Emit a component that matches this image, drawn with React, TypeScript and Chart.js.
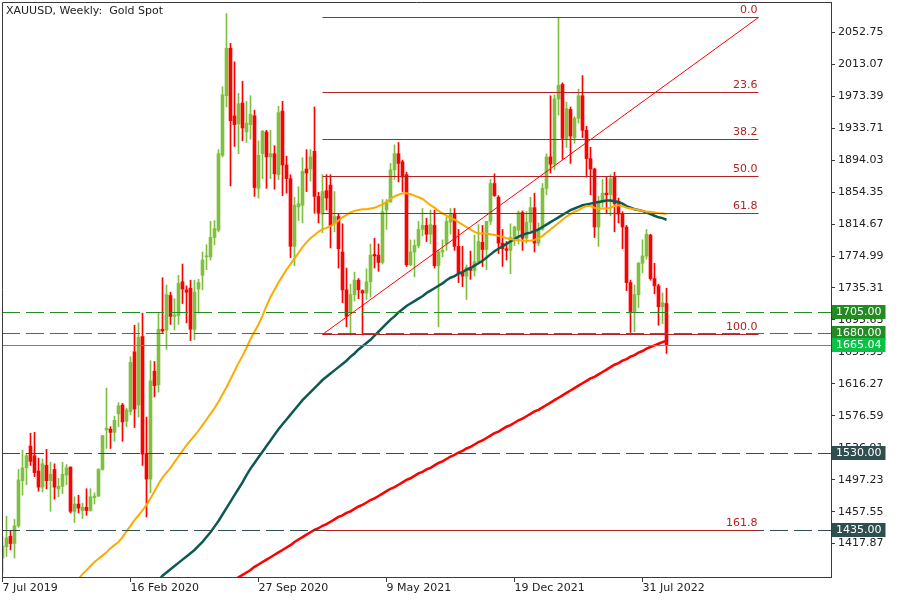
import { useEffect, useRef } from "react";
import { Chart, registerables } from "chart.js";

Chart.register(...registerables);

// ---------- data ----------
const title = "XAUUSD, Weekly:  Gold Spot";
const tickBars = [0, 32, 64, 96, 128, 160];
const tickLabels = ["7 Jul 2019", "16 Feb 2020", "27 Sep 2020", "9 May 2021", "19 Dec 2021", "31 Jul 2022"];
const priceTicks = [2052.75, 2013.07, 1973.39, 1933.71, 1894.03, 1854.35, 1814.67, 1774.99, 1735.31, 1695.63, 1655.95, 1616.27, 1576.59, 1536.91, 1497.23, 1457.55, 1417.87];

const opens = [
  1400, 1414, 1427, 1418, 1440, 1496, 1512, 1539, 1527, 1508, 1488, 1515, 1496, 1510, 1486, 1489, 1503, 1513, 1458, 1467,
  1459, 1463, 1459, 1475, 1477, 1510, 1559, 1560, 1556, 1579, 1590, 1570, 1582, 1656, 1590, 1675, 1530, 1498, 1632, 1615,
  1684, 1683, 1726, 1700, 1701, 1743, 1733, 1735, 1684, 1734, 1751, 1774, 1774, 1798, 1807, 1900, 1974, 2033, 1949, 1939,
  1965, 1929, 1938, 1949, 1859, 1902, 1929, 1898, 1902, 1876, 1955, 1888, 1871, 1787, 1836, 1838, 1883, 1883, 1905, 1849,
  1827, 1856, 1863, 1815, 1824, 1780, 1733, 1706, 1727, 1745, 1732, 1729, 1743, 1777, 1776, 1767, 1832, 1842, 1882, 1902,
  1892, 1876, 1764, 1780, 1788, 1808, 1813, 1802, 1813, 1763, 1780, 1790, 1817, 1827, 1787, 1754, 1750, 1761, 1757, 1768,
  1792, 1783, 1818, 1865, 1848, 1791, 1784, 1782, 1798, 1807, 1829, 1797, 1817, 1835, 1791, 1808, 1859, 1898, 1889, 1970,
  1988, 1921, 1957, 1922, 1946, 1974, 1931, 1896, 1883, 1811, 1842, 1853, 1851, 1873, 1840, 1827, 1811, 1742, 1706, 1727,
  1766, 1775, 1801, 1747, 1738, 1712, 1716
];
const highs = [
  1427, 1452, 1434, 1448, 1510, 1534, 1530, 1555, 1556, 1524, 1523, 1535, 1519, 1517, 1499, 1519, 1516, 1513, 1476, 1478,
  1468, 1486, 1486, 1481, 1511, 1552, 1611, 1563, 1576, 1593, 1592, 1586, 1650, 1689, 1692, 1704, 1575, 1645, 1644, 1704,
  1748, 1739, 1730, 1722, 1751, 1765, 1738, 1745, 1745, 1746, 1780, 1789, 1818, 1819, 1907, 1985, 2076, 2039, 2016, 1977,
  1992, 1967, 1974, 1956, 1918, 1931, 1931, 1931, 1912, 1961, 1967, 1899, 1876, 1848, 1861, 1897, 1907, 1907, 1960, 1854,
  1876, 1876, 1876, 1855, 1827, 1815, 1760, 1740, 1755, 1747, 1733, 1759, 1790, 1797, 1790, 1845, 1845, 1890, 1913, 1916,
  1894, 1879, 1795, 1795, 1818, 1834, 1822, 1832, 1832, 1782, 1795, 1823, 1834, 1834, 1808, 1787, 1764, 1781, 1801, 1814,
  1813, 1818, 1870, 1877, 1850, 1808, 1793, 1815, 1812, 1831, 1831, 1830, 1848, 1853, 1816, 1865, 1902, 1974, 1975, 2071,
  1990, 1966, 1960, 1948, 1982, 1999, 1936, 1910, 1884, 1849, 1870, 1874, 1876, 1879, 1847, 1830, 1813, 1745, 1739, 1767,
  1795, 1808, 1802, 1766, 1740, 1729, 1735
];
const lows = [
  1381, 1402, 1410, 1400, 1438, 1478, 1491, 1515, 1501, 1483, 1482, 1486, 1458, 1473, 1476, 1480, 1491, 1456, 1444, 1456,
  1449, 1453, 1458, 1467, 1476, 1509, 1536, 1536, 1545, 1563, 1545, 1563, 1578, 1562, 1575, 1515, 1451, 1481, 1600, 1606,
  1680, 1659, 1690, 1683, 1690, 1716, 1692, 1670, 1671, 1704, 1733, 1758, 1770, 1789, 1805, 1898, 1960, 1862, 1911, 1902,
  1918, 1916, 1920, 1849, 1847, 1871, 1859, 1871, 1858, 1870, 1850, 1853, 1773, 1763, 1819, 1816, 1855, 1868, 1828, 1816,
  1804, 1832, 1785, 1805, 1760, 1717, 1687, 1677, 1719, 1722, 1677, 1721, 1724, 1760, 1756, 1765, 1808, 1842, 1870, 1867,
  1855, 1762, 1763, 1749, 1785, 1800, 1793, 1790, 1760, 1687, 1774, 1782, 1802, 1782, 1742, 1737, 1721, 1746, 1750, 1765,
  1762, 1758, 1814, 1849, 1778, 1762, 1770, 1753, 1788, 1790, 1782, 1791, 1806, 1780, 1788, 1807, 1851, 1878, 1882, 1950,
  1895, 1910, 1890, 1915, 1940, 1922, 1873, 1851, 1798, 1787, 1836, 1828, 1825, 1805, 1816, 1784, 1732, 1680, 1681, 1711,
  1754, 1771, 1745, 1728, 1689, 1691, 1654
];
const closes = [
  1415, 1425, 1418, 1440, 1497, 1512, 1527, 1520, 1506, 1488, 1517, 1496, 1504, 1488, 1489, 1504, 1512, 1458, 1467, 1462,
  1463, 1459, 1476, 1477, 1510, 1552, 1561, 1556, 1571, 1589, 1569, 1584, 1643, 1585, 1674, 1529, 1498, 1620, 1614, 1684,
  1682, 1727, 1700, 1702, 1741, 1734, 1730, 1684, 1730, 1742, 1770, 1775, 1798, 1809, 1902, 1975, 2033, 1943, 1938, 1964,
  1934, 1940, 1951, 1860, 1900, 1930, 1898, 1902, 1877, 1953, 1888, 1871, 1787, 1838, 1840, 1880, 1878, 1898, 1849, 1828,
  1855, 1847, 1813, 1824, 1784, 1733, 1700, 1727, 1745, 1733, 1729, 1743, 1776, 1775, 1767, 1830, 1842, 1882, 1902, 1890,
  1873, 1764, 1780, 1788, 1808, 1813, 1802, 1814, 1763, 1780, 1782, 1818, 1827, 1787, 1754, 1750, 1761, 1757, 1768, 1793,
  1783, 1818, 1865, 1850, 1791, 1784, 1782, 1798, 1811, 1829, 1797, 1817, 1835, 1791, 1808, 1859, 1898, 1889, 1970, 1987,
  1921, 1958, 1924, 1946, 1974, 1931, 1896, 1883, 1811, 1842, 1853, 1851, 1871, 1840, 1827, 1811, 1742, 1706, 1727, 1766,
  1775, 1802, 1747, 1738, 1712, 1717, 1665
];

// moving averages (first bar index + values)
const ma50Start = 18;
const ma50 = [
  1368, 1374, 1380, 1385, 1390, 1395, 1399, 1403, 1407, 1412, 1416, 1420, 1426, 1433, 1440, 1447, 1453, 1459, 1466, 1474,
  1483, 1492, 1500, 1506, 1512, 1519, 1526, 1533, 1540, 1546, 1552, 1558, 1565, 1572, 1579, 1586, 1594, 1603, 1612, 1622,
  1632, 1642, 1651, 1661, 1672, 1681, 1690, 1701, 1713, 1724, 1733, 1742, 1750, 1758, 1765, 1772, 1779, 1786, 1792, 1797,
  1801, 1805, 1808, 1810, 1812, 1815, 1819, 1823, 1826, 1829, 1831, 1832, 1833, 1833, 1834, 1835, 1837, 1839, 1842, 1846,
  1849, 1851, 1853, 1853, 1852, 1850, 1848, 1846, 1842, 1838, 1835, 1831, 1828, 1825, 1822, 1820, 1817, 1814, 1811, 1808,
  1805, 1803, 1803, 1803, 1802, 1801, 1800, 1799, 1797, 1796, 1795, 1795, 1794, 1794, 1794, 1795, 1797, 1800, 1804, 1808,
  1812, 1816, 1820, 1824, 1827, 1830, 1832, 1835, 1837, 1837, 1835, 1834, 1834, 1834, 1835, 1837, 1838, 1837, 1835, 1834,
  1833, 1832, 1831, 1830, 1830, 1829, 1828, 1828, 1827
];
const ma100Start = 39;
const ma100 = [
  1372, 1378, 1382, 1386, 1390, 1394, 1398, 1402, 1406, 1410, 1415, 1420, 1426, 1432, 1439, 1446, 1454, 1462, 1470, 1478,
  1486, 1494, 1503, 1511, 1518, 1525, 1532, 1539, 1546, 1553, 1560, 1566, 1572, 1578, 1584, 1590, 1596, 1601, 1606, 1611,
  1616, 1621, 1625, 1629, 1633, 1637, 1641, 1645, 1650, 1654, 1659, 1663, 1667, 1671, 1676, 1681, 1686, 1691, 1696, 1700,
  1705, 1709, 1713, 1716, 1719, 1722, 1725, 1729, 1732, 1735, 1738, 1741, 1745, 1748, 1750, 1753, 1755, 1758, 1760, 1763,
  1766, 1769, 1773, 1777, 1781, 1784, 1787, 1790, 1793, 1796, 1799, 1801, 1803, 1804, 1806, 1808, 1811, 1814, 1817, 1820,
  1823, 1826, 1829, 1832, 1834, 1836, 1838, 1839, 1840, 1841, 1842, 1843, 1844, 1844, 1843, 1842, 1840, 1837, 1835, 1833,
  1832, 1831, 1829, 1827, 1825, 1823, 1822, 1820
];
const ma200Start = 58;
const ma200 = [
  1373, 1376, 1379, 1382, 1385, 1389, 1392, 1395, 1398, 1401, 1404, 1407, 1410, 1413, 1416, 1420, 1423, 1426, 1429, 1432,
  1435, 1437, 1440, 1442, 1445, 1448, 1451, 1453, 1456, 1458, 1461, 1464, 1466, 1469, 1472, 1474, 1477, 1480, 1483, 1486,
  1488, 1491, 1494, 1497, 1499, 1502, 1505, 1507, 1510, 1512, 1515, 1518, 1520, 1523, 1526, 1528, 1531, 1533, 1536, 1538,
  1541, 1544, 1546, 1549, 1552, 1555, 1557, 1560, 1563, 1565, 1568, 1571, 1573, 1576, 1579, 1582, 1584, 1587, 1590, 1593,
  1596, 1599, 1602, 1605, 1608, 1611, 1614, 1617, 1620, 1623, 1625, 1628, 1631, 1634, 1637, 1640, 1642, 1645, 1647, 1650,
  1652, 1655, 1657, 1660, 1662, 1664, 1666, 1668, 1670
];

const greenLevels = [1705, 1680];
const slateLevels = [1530, 1435];
const currentPrice = 1665.04;
const fibLevels = [0, 23.6, 38.2, 50, 61.8, 100, 161.8];
const fibHigh = 2071.2;
const fibLow = 1677.6;
const fibStartBar = 80;
const fibEndBar = 189;

// ---------- colours ----------
const BULL = "#80C040";
const BEAR = "#FF0000";
const TEXT = "#222222";
const FRAME = "#3a3a3a";
const FONT = "DejaVu Sans";

export default function App() {
  const ref = useRef<HTMLCanvasElement | null>(null);

  useEffect(() => {
    const canvas = ref.current;
    if (!canvas) return;
    const colors = closes.map((c, i) => (c >= opens[i] ? BULL : BEAR));
    const wicks = closes.map((_, i) => ({ x: i, y: [lows[i], highs[i]] }));
    const bodies = closes.map((c, i) => ({ x: i, y: [opens[i], c] }));
    const maPts = (start: number, arr: number[]) => arr.map((v, k) => ({ x: start + k, y: v }));

    const overlay = {
      id: "overlay",
      afterDatasetsDraw(chart: any) {
        const { ctx, chartArea: a, scales } = chart;
        const xs = scales.x;
        const ys = scales.y;
        ctx.save();
        ctx.beginPath();
        ctx.rect(a.left, a.top, a.right - a.left, a.bottom - a.top);
        ctx.clip();
        const hline = (p: number, color: string, dash: number[], x0 = a.left, x1 = a.right, w = 1) => {
          const y = Math.round(ys.getPixelForValue(p)) + 0.5;
          ctx.strokeStyle = color;
          ctx.lineWidth = w;
          ctx.setLineDash(dash);
          ctx.beginPath();
          ctx.moveTo(x0, y);
          ctx.lineTo(x1, y);
          ctx.stroke();
        };
        greenLevels.forEach((p) => hline(p, "#228B22", [18, 6]));
        slateLevels.forEach((p) => hline(p, "#2F4F4F", [18, 6]));
        hline(currentPrice, "#30B048", []);
        // fibonacci
        const fx0 = xs.getPixelForValue(fibStartBar);
        const fx1 = xs.getPixelForValue(fibEndBar);
        ctx.font = `11px ${FONT}`;
        ctx.textAlign = "right";
        ctx.textBaseline = "bottom";
        fibLevels.forEach((lv) => {
          const p = fibHigh - (lv / 100) * (fibHigh - fibLow);
          hline(p, "#B22222", [], fx0, fx1);
          const y = Math.round(ys.getPixelForValue(p));
          ctx.fillStyle = "#B22222";
          ctx.fillText(lv.toFixed(1), fx1 - 1, y - 1);
        });
        ctx.strokeStyle = "#FF0000";
        ctx.lineWidth = 1;
        ctx.setLineDash([]);
        ctx.beginPath();
        ctx.moveTo(fx0, ys.getPixelForValue(fibLow));
        ctx.lineTo(fx1, ys.getPixelForValue(fibHigh));
        ctx.stroke();
        ctx.restore();
      },
      afterDraw(chart: any) {
        const { ctx, chartArea: a, scales } = chart;
        const ys = scales.y;
        ctx.save();
        // frame (left + top)
        ctx.strokeStyle = FRAME;
        ctx.lineWidth = 1;
        ctx.beginPath();
        ctx.moveTo(a.left + 0.5, a.bottom);
        ctx.lineTo(a.left + 0.5, a.top + 0.5);
        ctx.lineTo(a.right, a.top + 0.5);
        ctx.stroke();
        // title
        ctx.font = `11px ${FONT}`;
        ctx.fillStyle = TEXT;
        ctx.textAlign = "left";
        ctx.textBaseline = "middle";
        ctx.fillText(title, 6, 11);
        // price boxes
        const box = (p: number, bg: string) => {
          const y = Math.round(ys.getPixelForValue(p));
          const label = p.toFixed(2);
          const w = ctx.measureText(label).width + 8;
          ctx.fillStyle = bg;
          ctx.fillRect(a.right + 1, y - 7, w, 14);
          ctx.fillStyle = "#FFFFFF";
          ctx.fillText(label, a.right + 5, y + 0.5);
        };
        greenLevels.forEach((p) => box(p, "#228B22"));
        box(currentPrice, "#0CC048");
        slateLevels.forEach((p) => box(p, "#2F4F4F"));
        ctx.restore();
      },
    };

    const noPad = (s: any) => {
      s.paddingTop = 0;
      s.paddingBottom = 0;
      s.paddingLeft = 0;
      s.paddingRight = 0;
    };

    const chart = new Chart(canvas, {
      type: "bar",
      data: {
        datasets: [
          { type: "line", data: maPts(ma50Start, ma50), borderColor: "#FFAA00", borderWidth: 2, pointRadius: 0, order: 1 } as any,
          { type: "line", data: maPts(ma100Start, ma100), borderColor: "#0E5A50", borderWidth: 2.5, pointRadius: 0, order: 2 } as any,
          { type: "line", data: maPts(ma200Start, ma200), borderColor: "#FF0000", borderWidth: 2.5, pointRadius: 0, order: 3 } as any,
          { type: "bar", data: bodies, backgroundColor: colors, barThickness: 3, minBarLength: 1, grouped: false, order: 4 } as any,
          { type: "bar", data: wicks, backgroundColor: colors, barThickness: 1, grouped: false, order: 5 } as any,
        ],
      },
      options: {
        responsive: false,
        animation: false,
        events: [],
        layout: { padding: { left: 2, top: 2, right: 0, bottom: 0 } },
        plugins: { legend: { display: false }, tooltip: { enabled: false } },
        scales: {
          x: {
            type: "linear",
            position: "bottom",
            min: -0.125,
            max: 207.125,
            offset: false,
            afterBuildTicks: (s: any) => {
              s.ticks = tickBars.map((v) => ({ value: v }));
            },
            afterFit: (s: any) => {
              s.height = 23;
              noPad(s);
            },
            ticks: {
              autoSkip: false,
              maxRotation: 0,
              align: "start",
              padding: 0,
              color: TEXT,
              font: { family: FONT, size: 11 },
              callback: (v: any) => {
                const k = tickBars.indexOf(Number(v));
                return k >= 0 ? tickLabels[k] : "";
              },
            },
            grid: { drawOnChartArea: false, drawTicks: true, tickLength: 5, color: FRAME, offset: false },
            border: { display: true, color: FRAME },
          },
          y: {
            type: "linear",
            position: "right",
            min: 1376.43,
            max: 2090.37,
            beginAtZero: false,
            afterBuildTicks: (s: any) => {
              s.ticks = priceTicks.map((v) => ({ value: v }));
            },
            afterFit: (s: any) => {
              s.width = 69;
              noPad(s);
            },
            ticks: {
              autoSkip: false,
              padding: 3,
              color: TEXT,
              font: { family: FONT, size: 11 },
              callback: (v: any) => Number(v).toFixed(2),
            },
            grid: { drawOnChartArea: false, drawTicks: true, tickLength: 4, color: FRAME },
            border: { display: true, color: FRAME },
          },
        },
      } as any,
      plugins: [overlay],
    });
    return () => chart.destroy();
  }, []);

  return (
    <div style={{ position: "absolute", left: 0, top: 0, width: 900, height: 600, background: "#fff" }}>
      <canvas ref={ref} width={900} height={600} style={{ display: "block" }} />
    </div>
  );
}
